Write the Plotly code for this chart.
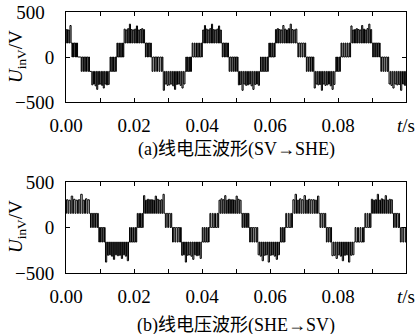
import plotly.graph_objects as go

# ---------------- data ----------------
# Panel (a): line voltage, SV -> SHE
# each segment: start time (s), resting level (V), switched level (V), number of pulses
a_seg_t    = [0.0000, 0.0016, 0.0034, 0.0043, 0.0069, 0.0075, 0.0128, 0.0148, 0.0170,
              0.0232, 0.0251, 0.0285, 0.0351, 0.0369, 0.0401, 0.0458, 0.0478, 0.0506,
              0.0570, 0.0595, 0.0615, 0.0680, 0.0705, 0.0729, 0.0792, 0.0807, 0.0837,
              0.0900, 0.0924, 0.0949]
a_seg_base = [155, 155, 0, 0, -160, -160, -160, 0, 155,
              155, 0, -160, -160, 0, 155, 155, 0, -160,
              -160, 0, 155, 155, 0, -160, -160, 0, 155,
              155, 0, -160]
a_seg_alt  = [300, 0, 0, -160, -160, -300, 0, 155, 300,
              0, -160, -300, 0, 155, 300, 0, -160, -300,
              0, 155, 300, 0, -160, -300, 0, 155, 300,
              0, -160, -300]
a_seg_n    = [3, 4, 0, 5, 0, 11, 4, 4, 12,
              4, 5, 12, 4, 5, 11, 4, 5, 12,
              4, 4, 12, 4, 4, 12, 3, 5, 12,
              4, 4, 9]
a_top_peaks = [305, 300, 350, 310, 300, 315, 365, 305, 300, 310, 345, 300, 305, 315]
a_bot_peaks = [-310, -300, -320, -360, -305, -300, -315, -345, -300, -310, -305, -370, -300, -315]
a_end = 0.1

# Panel (b): line voltage, SHE -> SV
b_seg_t    = [0.0000, 0.0070, 0.0095, 0.0115, 0.0185, 0.0208, 0.0227, 0.0290, 0.0311,
              0.0339, 0.0399, 0.0421, 0.0449, 0.0516, 0.0538, 0.0564, 0.0629, 0.0644,
              0.0666, 0.0745, 0.0764, 0.0781, 0.0848, 0.0877, 0.0897, 0.0961, 0.0981]
b_seg_base = [155, 155, 0, -160, -160, 0, 155, 155, 0,
              -160, -160, 0, 155, 155, 0, -160, -160, 0,
              155, 155, 0, -160, -160, 0, 155, 155, 0]
b_seg_alt  = [300, 0, -160, -300, 0, 155, 300, 0, -160,
              -300, 0, 155, 300, 0, -160, -300, 0, 155,
              300, 0, -160, -300, 0, 155, 300, 0, -160]
b_seg_n    = [10, 4, 4, 12, 4, 4, 11, 3, 4,
              11, 4, 4, 12, 4, 4, 11, 3, 3,
              12, 3, 3, 11, 4, 3, 11, 3, 3]
b_top_peaks = [305, 300, 345, 310, 300, 305, 365, 300, 315, 305, 350, 300, 310, 305]
b_bot_peaks = [-380, -305, -300, -315, -350, -300, -310, -305, -340, -300, -315, -365, -305, -300]
b_end = 0.1003

x_tickvals = [0.0, 0.02, 0.04, 0.06, 0.08, 0.10]
x_ticktext = ["0.00", "0.02", "0.04", "0.06", "0.08", "<i>t</i>/s"]
x_minor = [0.01, 0.03, 0.05, 0.07, 0.09]
y_tickvals = [-500, 0, 500]
ya_ticktext = ["\u2212500", "0", "500\u00a0\u00a0"]
yb_ticktext = ["\u2212500", "0", "500"]
cap_a = "(a)线电压波形(SV\u2192SHE)"
cap_b = "(b)线电压波形(SHE\u2192SV)"
y_title = "<i>U</i><sub>inV</sub>/V"


def build(seg_t, seg_base, seg_alt, seg_n, top_pk, bot_pk, t_end, duty_full=0.62, duty_mid=0.35):
    xs, ys = [], []
    it, ib = 0, 0
    for i, t0 in enumerate(seg_t):
        t1 = seg_t[i + 1] if i + 1 < len(seg_t) else t_end
        base, alt, n = seg_base[i], seg_alt[i], seg_n[i]
        if n == 0:
            xs.append(t0); ys.append(base)
            continue
        p = (t1 - t0) / n
        d = duty_full if abs(alt) >= 250 else duty_mid
        for k in range(n):
            ts = t0 + k * p
            lvl = alt
            if alt >= 250:
                lvl = top_pk[it % len(top_pk)]; it += 1
            elif alt <= -250:
                lvl = bot_pk[ib % len(bot_pk)]; ib += 1
            xs += [ts, ts + p * (1 - d) / 2, ts + p * (1 + d) / 2]
            ys += [base, lvl, base]
    xs.append(t_end); ys.append(ys[-1])
    return xs, ys


xa, ya = build(a_seg_t, a_seg_base, a_seg_alt, a_seg_n, a_top_peaks, a_bot_peaks, a_end)
xb, yb = build(b_seg_t, b_seg_base, b_seg_alt, b_seg_n, b_top_peaks, b_bot_peaks, b_end)

W, H = 417, 334
serif = "Liberation Serif, Times New Roman, serif"
mixed = "Liberation Serif, Noto Sans CJK SC, serif"
tickfont = dict(family=serif, size=19, color="black")

fig = go.Figure()
fig.add_trace(go.Scatter(x=xa, y=ya, mode="lines", line=dict(color="black", width=1, shape="hv"),
                         xaxis="x", yaxis="y", showlegend=False, hoverinfo="skip"))
fig.add_trace(go.Scatter(x=xb, y=yb, mode="lines", line=dict(color="black", width=1, shape="hv"),
                         xaxis="x2", yaxis="y2", showlegend=False, hoverinfo="skip"))


def xax(anchor):
    return dict(domain=[66 / W, 406 / W], range=[0, 0.1], anchor=anchor, automargin=False,
                tickmode="array", tickvals=x_tickvals, ticktext=x_ticktext,
                ticks="inside", ticklen=4, tickcolor="black", mirror="allticks",
                showline=True, linecolor="black", linewidth=1,
                minor=dict(tickmode="array", tickvals=x_minor, ticks="inside", ticklen=4, tickcolor="black"),
                showgrid=False, zeroline=False, tickfont=tickfont, ticklabelstandoff=6)


def yax(anchor, dom, ttext):
    return dict(domain=dom, range=[-500, 500], anchor=anchor, automargin=False,
                tickmode="array", tickvals=y_tickvals, ticktext=ttext,
                ticks="inside", ticklen=4, tickcolor="black", mirror="allticks",
                showline=True, linecolor="black", linewidth=1,
                showgrid=False, zeroline=False, tickfont=tickfont, ticklabelstandoff=7)


fig.update_layout(
    width=W, height=H, margin=dict(l=0, r=0, t=0, b=0, autoexpand=False),
    paper_bgcolor="white", plot_bgcolor="white",
    xaxis=xax("y"), yaxis=yax("x", [1 - 102 / H, 1 - 12 / H], ya_ticktext),
    xaxis2=xax("y2"), yaxis2=yax("x2", [1 - 273 / H, 1 - 182 / H], yb_ticktext),
    annotations=[
        dict(text=y_title, x=17 / W, y=1 - 57 / H, xref="paper", yref="paper", textangle=-90,
             showarrow=False, font=dict(family=serif, size=19, color="black"), xanchor="center", yanchor="middle"),
        dict(text=y_title, x=17 / W, y=1 - 227 / H, xref="paper", yref="paper", textangle=-90,
             showarrow=False, font=dict(family=serif, size=19, color="black"), xanchor="center", yanchor="middle"),
        dict(text=cap_a, x=236 / W, y=1 - 149 / H, xref="paper", yref="paper", showarrow=False,
             font=dict(family=mixed, size=18, color="black"), xanchor="center", yanchor="middle"),
        dict(text=cap_b, x=236 / W, y=1 - 325 / H, xref="paper", yref="paper", showarrow=False,
             font=dict(family=mixed, size=18, color="black"), xanchor="center", yanchor="middle"),
    ],
)

fig.write_html("out.html", config={"displayModeBar": False},
               post_script="document.body.style.margin='0';document.body.style.overflow='hidden';")
